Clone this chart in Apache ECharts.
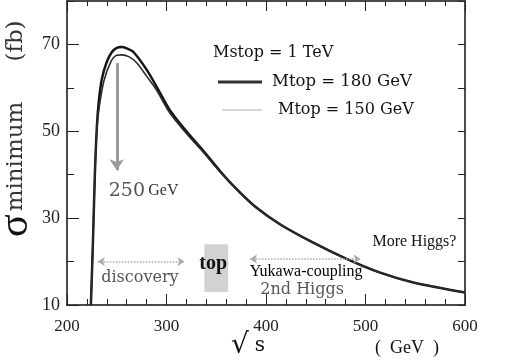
<!DOCTYPE html>
<html>
<head>
<meta charset="utf-8">
<script src="https://cdn.jsdelivr.net/npm/echarts@6/dist/echarts.min.js"></script>
<style>html,body{margin:0;padding:0;background:#fff}#c{width:523px;height:363px}</style>
</head>
<body>
<div id="c"></div>
<script>
// ---- data ----
var sqrtS180 = [224, 226, 228, 230, 232, 235, 240, 245, 250, 255, 260, 267, 280, 290, 303, 320, 337, 354, 370, 390, 414, 447, 481, 514, 548, 600];
var sigma180 = [10, 24, 40, 51, 57, 62, 66, 68.2, 69.2, 69.4, 69.1, 68.2, 64.2, 60.3, 55, 50, 45.5, 40.8, 36.8, 32.5, 28.6, 24.4, 20.6, 17.5, 15.2, 12.9];
var sqrtS150 = [224, 226, 228, 230, 232, 237, 244, 250, 255, 262, 270, 280, 290, 303, 320, 337, 354, 370, 390, 414, 447, 481, 514, 548, 600];
var sigma150 = [10, 24, 40, 50.5, 55, 61.5, 66, 67.5, 67.6, 67.2, 65.8, 62.7, 59.5, 54.3, 49.5, 45.2, 40.6, 36.7, 32.4, 28.6, 24.4, 20.6, 17.5, 15.2, 12.9];
var seriesNames = ['Mtop = 180 GeV', 'Mtop = 150 GeV'];
var headerText = 'Mstop = 1 TeV';
var yTickLabels = [10, 30, 50, 70];
var xTickLabels = [200, 300, 400, 500, 600];
var regionArrows = [[231, 318, 20.0], [384, 495, 20.6], [524, 604, 20.8]]; // [from, to, sigma]
var peakArrow = [250, 65.7, 41];
var topBand = [338, 362, 13, 24];

function pairs(xs, ys) { return xs.map(function (x, i) { return [x, ys[i]]; }); }

var chart = echarts.init(document.getElementById('c'), null, {renderer: 'canvas'});
var SERIF = '"Liberation Serif", "Times New Roman", serif';
var DSERIF = '"DejaVu Serif", serif';

function note(x, y, text, style) {
  return {coord: [x, y], value: text, label: Object.assign({show: true, position: 'inside', formatter: text}, style)};
}

var arrowLines = regionArrows.map(function (a) {
  return [{coord: [a[0], a[2]]}, {coord: [a[1], a[2]]}];
});

// legend sample icons: full-height bounding box (0..44 x 0..6) with visible part in the middle
var thickIcon = 'path://M0,0L0.01,0L0,0.01Z M0,1.5L44,1.5L44,4.5L0,4.5Z M0,6L0.01,6L0,5.99Z';
var dotParts = [];
for (var i = 4; i < 44; i += 2) { dotParts.push('M' + i + ',2.5L' + (i + 1) + ',2.5L' + (i + 1) + ',3.5L' + i + ',3.5Z'); }
var dottedIcon = 'path://M0,0L0.01,0L0,0.01Z ' + dotParts.join(' ') + ' M0,6L0.01,6L0,5.99Z';

var option = {
  animation: false,
  backgroundColor: '#fff',
  color: ['#1a1a1a', '#2a2a2a'],
  grid: {left: 67, right: 58, top: 1, bottom: 58, containLabel: false},
  title: {
    text: headerText, left: 208, top: 40,
    textStyle: {fontFamily: DSERIF, fontSize: 16, fontWeight: 'normal', color: '#111'}
  },
  legend: {
    orient: 'vertical', left: 213, top: 67, itemWidth: 44, itemHeight: 6, itemGap: 8,
    selectedMode: false,
    textStyle: {fontFamily: DSERIF, fontSize: 16.5, color: '#111', padding: [0, 0, 0, 5], lineHeight: 20},
    data: [
      {name: seriesNames[0], icon: thickIcon, itemStyle: {color: '#333'}},
      {name: seriesNames[1], icon: dottedIcon, itemStyle: {color: '#555'}, textStyle: {fontSize: 16, padding: [0, 0, 0, 11]}}
    ]
  },
  xAxis: [{
    type: 'value', min: 200, max: 600, interval: 100,
    axisLine: {show: true, lineStyle: {color: '#111', width: 1.5}},
    axisTick: {show: true, inside: true, length: 11, lineStyle: {color: '#222'}},
    minorTick: {show: true, splitNumber: 5, length: 6, lineStyle: {color: '#222'}},
    splitLine: {show: false},
    axisLabel: {fontFamily: SERIF, fontSize: 17, color: '#222', margin: 13,
      formatter: function (v) { return xTickLabels.indexOf(v) >= 0 ? String(v) : ''; }}
  }, {
    type: 'value', position: 'top', min: 200, max: 600, interval: 100,
    axisLine: {show: true, lineStyle: {color: '#111', width: 1.5}},
    axisTick: {show: true, inside: true, length: 10, lineStyle: {color: '#222'}},
    minorTick: {show: true, splitNumber: 5, length: 5, lineStyle: {color: '#222'}},
    splitLine: {show: false}, axisLabel: {show: false}
  }],
  yAxis: [{
    type: 'value', min: 10, max: 80, interval: 20,
    axisLine: {show: true, lineStyle: {color: '#111', width: 1.5}},
    axisTick: {show: true, inside: true, length: 12, lineStyle: {color: '#222'}},
    splitLine: {show: false},
    axisLabel: {fontFamily: SERIF, fontSize: 18, color: '#222', margin: 7, showMaxLabel: false,
      formatter: function (v) { return yTickLabels.indexOf(v) >= 0 ? String(v) : ''; }}
  }, {
    type: 'value', position: 'right', min: 10, max: 80, interval: 10,
    axisLine: {show: true, lineStyle: {color: '#111', width: 1.5}},
    axisTick: {show: true, inside: true, length: 7, lineStyle: {color: '#222'}},
    splitLine: {show: false}, axisLabel: {show: false}
  }, {
    type: 'value', position: 'left', min: 10, max: 80, interval: 10,
    axisLine: {show: false},
    axisTick: {show: true, inside: true, length: 7, lineStyle: {color: '#222'}},
    splitLine: {show: false}, axisLabel: {show: false}
  }],
  series: [{
    name: seriesNames[0], type: 'line', data: pairs(sqrtS180, sigma180), smooth: 0.3,
    showSymbol: false, symbol: 'none', clip: true,
    lineStyle: {color: '#151515', width: 2.5}, z: 3
  }, {
    name: seriesNames[1], type: 'line', data: pairs(sqrtS150, sigma150), smooth: 0.3,
    showSymbol: false, symbol: 'none', clip: true,
    lineStyle: {color: '#2a2a2a', width: 1.6}, z: 3,
    markArea: {
      silent: true,
      itemStyle: {color: '#d2d2d2'},
      data: [[{coord: [topBand[0], topBand[3]]}, {coord: [topBand[1], topBand[2]]}]]
    },
    markLine: {
      silent: true, animation: false,
      data: arrowLines.concat([[{coord: [peakArrow[0], peakArrow[1]], symbol: 'none'},
                  {coord: [peakArrow[0], peakArrow[2]], symbol: 'arrow', symbolSize: 11,
                   lineStyle: {color: '#9a9a9a', width: 3, type: 'solid'}}]]),
      symbol: ['arrow', 'arrow'], symbolSize: 7,
      lineStyle: {color: '#aaa', width: 1.5, type: 'dotted'},
      label: {show: false}
    },
    markPoint: {
      silent: true, symbol: 'circle', symbolSize: 0,
      data: [
        note(277, 36.3, '{a|250} {b|GeV}', {rich: {a: {fontFamily: DSERIF, fontSize: 19, color: '#555'}, b: {fontFamily: SERIF, fontSize: 16, color: '#333'}}}),
        note(273.3, 16.3, 'discovery', {fontFamily: DSERIF, fontSize: 16, color: '#555'}),
        note(347, 19.5, 'top', {fontFamily: SERIF, fontSize: 20, fontWeight: 'bold', color: '#111'}),
        note(440.3, 17.7, 'Yukawa-coupling', {fontFamily: SERIF, fontSize: 16, color: '#000'}),
        note(436.3, 13.6, '2nd Higgs', {fontFamily: DSERIF, fontSize: 16, color: '#555'}),
        note(549.2, 24.6, 'More Higgs?', {fontFamily: SERIF, fontSize: 16, color: '#111'})
      ]
    }
  }],
  graphic: [{
    type: 'text', x: 37, y: 237, rotation: Math.PI / 2,
    style: {
      text: '{s|σ}{g1| }{m|minimum}{g| }{m|(fb)}',
      rich: {
        s: {fontFamily: SERIF, fontSize: 42, fill: '#111'},
        m: {fontFamily: DSERIF, fontSize: 23, fill: '#333'},
        g1: {fontSize: 10, width: 3},
        g: {fontSize: 10, width: 40}
      },
      verticalAlign: 'bottom', align: 'left'
    }
  }, {
    type: 'text', x: 231, y: 360,
    style: {
      text: '{r|√}{s|s}',
      rich: {
        r: {fontFamily: DSERIF, fontSize: 28, fill: '#111', padding: [0, 6, 0, 0]},
        s: {fontFamily: DSERIF, fontSize: 20, fill: '#111'}
      },
      verticalAlign: 'bottom', align: 'left'
    }
  }, {
    type: 'text', x: 375, y: 339,
    style: {text: '(  GeV  )', font: '18px "Liberation Serif", serif', fill: '#111'}
  }]
};
chart.setOption(option);
</script>
</body>
</html>
